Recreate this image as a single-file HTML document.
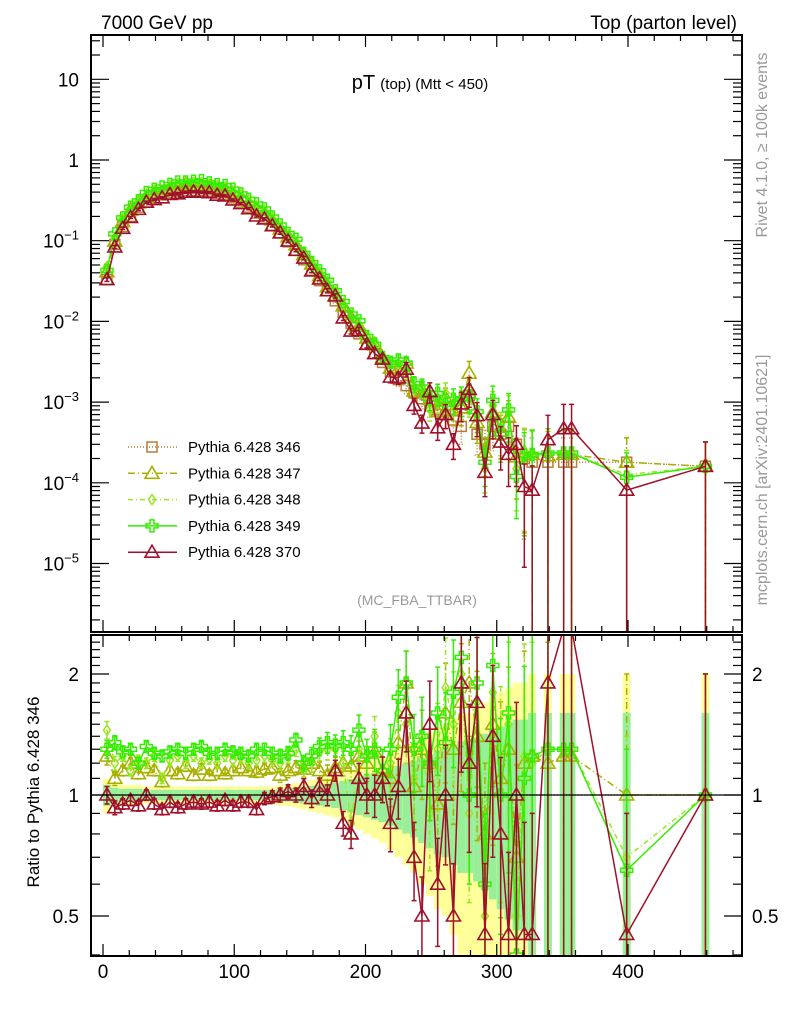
<!DOCTYPE html>
<html><head><meta charset="utf-8"><style>
html,body{margin:0;padding:0;background:#fff;width:786px;height:1024px;overflow:hidden;}
svg{display:block;font-family:"Liberation Sans",sans-serif;}
</style></head><body>
<svg id="c" width="786" height="1024" xmlns="http://www.w3.org/2000/svg">
<defs>
<clipPath id="cm"><rect x="91" y="35" width="651" height="597"/></clipPath>
<clipPath id="cr"><rect x="91" y="635" width="651" height="321"/></clipPath>
</defs>
<g id="bands" clip-path="url(#cr)"></g>
<g id="mainMarks" clip-path="url(#cm)"></g>
<g id="ratioMarks" clip-path="url(#cr)"></g>
<g id="axes"></g>
<text x="101" y="29" font-size="19">7000 GeV pp</text>
<text x="737" y="29" font-size="19" text-anchor="end">Top (parton level)</text>
<text x="420" y="89" font-size="20" text-anchor="middle">pT <tspan font-size="15">(top) (Mtt &lt; 450)</tspan></text>
<text x="417" y="605" font-size="14" fill="#999" text-anchor="middle">(MC_FBA_TTBAR)</text>
<text transform="translate(767,145) rotate(-90)" font-size="16" fill="#999" text-anchor="middle">Rivet 4.1.0, ≥ 100k events</text>
<text transform="translate(767,480) rotate(-90)" font-size="16" fill="#999" text-anchor="middle">mcplots.cern.ch [arXiv:2401.10621]</text>
<text transform="translate(39,792) rotate(-90)" font-size="17" text-anchor="middle">Ratio to Pythia 6.428 346</text>
<g id="legend"></g>
</svg>
<script>
const binCenters=[3,9,15,21,27,33,39,45,51,57,63,69,75,81,87,93,99,105,111,117,123,129,135,141,147,153,159,165,171,177,183,189,195,201,207,213,219,225,231,237,243,249,255,261,267,273,279,285,291,297,303,309,315,321,327,333,339,345,351,357,363,369,375,381,387,393,399,405,411,417,423,429,435,441,447,453,459,465,471,477];
const ref346=[0.033,0.09,0.15,0.2,0.26,0.3,0.34,0.37,0.39,0.41,0.42,0.42,0.42,0.41,0.39,0.37,0.34,0.30,0.26,0.22,0.19,0.155,0.125,0.097,0.076,0.058,0.043,0.032,0.024,0.018,0.013,0.0095,0.0070,0.0052,0.0040,0.0031,0.0024,0.0019,0.0016,0.0013,0.0011,0.0009,0.0008,0.0007,0.0006,0.0005,0.0012,0.0004,0.0003,0.0005,0.0004,0.0005,0.0003,0.0002,0.00018,null,0.00018,null,0.00018,0.00018,null,null,null,null,null,null,0.00018,null,null,null,null,null,null,null,null,null,0.00016,null,null,null];
const ratio347=[1.25,1.1,1.15,1.2,1.13,1.17,1.15,1.08,1.15,1.13,1.18,1.12,1.16,1.12,1.15,1.13,1.15,1.17,1.15,1.14,1.16,1.17,1.12,1.15,1.17,1.16,1.2,1.15,1.12,1.17,1.2,1.18,1.25,1.2,1.28,1.15,1.1,1.35,1.9,1.05,1.3,1.2,0.95,1.6,1.3,1.7,1.9,1.4,0.8,1.5,1.1,1.3,0.7,1.2,1.25,null,1.2,null,1.25,1.25,null,null,null,null,null,null,1.0,null,null,null,null,null,null,null,null,null,1.0,null,null,null];
const ratio348=[1.45,1.2,1.25,1.15,1.22,1.2,1.25,1.1,1.22,1.25,1.2,1.25,1.2,1.23,1.2,1.25,1.22,1.24,1.2,1.22,1.25,1.22,1.2,1.25,1.3,1.15,1.2,1.28,1.3,1.3,1.2,0.85,1.3,1.25,1.4,1.1,1.2,1.6,1.5,1.1,1.4,0.9,1.3,1.85,1.5,2.0,0.9,1.7,0.5,1.8,1.2,1.5,0.5,1.25,1.2,null,1.3,null,1.3,1.3,null,null,null,null,null,null,0.7,null,null,null,null,null,null,null,null,null,1.0,null,null,null];
const ratio349=[1.3,1.35,1.28,1.3,1.2,1.32,1.27,1.25,1.28,1.3,1.27,1.3,1.32,1.27,1.27,1.3,1.28,1.27,1.25,1.3,1.3,1.27,1.25,1.27,1.37,1.2,1.25,1.32,1.35,1.33,1.35,1.3,1.45,1.25,1.3,1.15,1.3,1.75,1.9,1.3,1.4,1.2,1.6,1.35,1.8,2.2,1.0,1.9,0.6,2.1,1.0,1.6,0.4,1.1,1.25,null,1.3,null,1.3,1.3,null,null,null,null,null,null,0.65,null,null,null,null,null,null,null,null,null,1.0,null,null,null];
const ratio370=[1.0,0.93,0.95,0.97,0.94,1.0,0.95,0.92,0.96,0.93,0.95,0.96,0.95,0.96,0.94,0.97,0.94,0.96,0.96,0.92,0.98,0.99,1.0,1.02,1.0,1.05,0.98,1.05,1.0,1.15,0.85,0.8,1.1,1.0,1.0,1.1,0.85,1.05,1.6,0.7,0.5,1.5,0.6,1.0,0.5,1.9,1.2,1.7,0.45,1.4,0.8,0.45,1.0,0.45,0.45,null,1.9,null,2.6,2.6,null,null,null,null,null,null,0.45,null,null,null,null,null,null,null,null,null,1.0,null,null,null];
const errFrac=[0.05,0.04,0.03,0.03,0.03,0.03,0.03,0.03,0.03,0.03,0.03,0.03,0.03,0.03,0.03,0.03,0.03,0.03,0.03,0.03,0.035,0.035,0.04,0.04,0.04,0.045,0.05,0.05,0.06,0.06,0.07,0.08,0.09,0.1,0.12,0.13,0.15,0.17,0.2,0.22,0.25,0.28,0.3,0.33,0.35,0.4,0.4,0.45,0.5,0.5,0.55,0.6,0.7,0.9,1,1,1,1,1,1,1,1,1,1,1,1,1,1,1,1,1,1,1,1,1,1,1,1,1,1];
const bandHalf=[0.1,0.07,0.06,0.06,0.06,0.05,0.05,0.05,0.05,0.05,0.05,0.05,0.05,0.05,0.05,0.05,0.05,0.05,0.05,0.05,0.05,0.05,0.06,0.06,0.07,0.08,0.09,0.1,0.11,0.12,0.14,0.16,0.18,0.2,0.22,0.24,0.27,0.3,0.33,0.36,0.4,0.44,0.48,0.5,0.55,0.6,0.6,0.65,0.7,0.75,0.8,0.85,0.9,0.9,1,1,1,1,1,1,1,1,1,1,1,1,1,1,1,1,1,1,1,1,1,1,1,1,1,1];
const xTicks=[0,100,200,300,400];
const mainYTicks=[-5,-4,-3,-2,-1,0,1];
const ratioYTicks=[0.5,1,2];

const NS="http://www.w3.org/2000/svg";
const L=91,R=742,MT=35,MB=632,RT=635,RB=956;
const xs=v=>103+v*1.3125;
const ym=v=>160-Math.log10(v)*80.7;
const yr=v=>795-Math.log2(v)*121;
const cl=(v,a,b)=>Math.max(a,Math.min(b,v));
function mk(tag,attrs,parent){const e=document.createElementNS(NS,tag);for(const k in attrs)e.setAttribute(k,attrs[k]);parent.appendChild(e);return e;}
const series=[
 {name:"Pythia 6.428 346",key:"346",col:"#b87c3a",dash:"1,2",m:"square",ratio:null},
 {name:"Pythia 6.428 347",key:"347",col:"#a8b000",dash:"7,3,1,3",m:"tri",ratio:ratio347},
 {name:"Pythia 6.428 348",key:"348",col:"#99e622",dash:"5,3,1,3",m:"diamond",ratio:ratio348},
 {name:"Pythia 6.428 349",key:"349",col:"#33ee00",dash:"",m:"cross",ratio:ratio349},
 {name:"Pythia 6.428 370",key:"370",col:"#a0102a",dash:"",m:"tri",ratio:ratio370}];
function marker(g,type,x,y,col){
 let e;
 if(type==="square")e=mk("rect",{x:x-5,y:y-5,width:10,height:10,fill:"none",stroke:col,"stroke-width":1.5},g);
 else if(type==="tri")e=mk("polygon",{points:`${x},${y-7} ${x-7},${y+5} ${x+7},${y+5}`,fill:"none",stroke:col,"stroke-width":1.6},g);
 else if(type==="diamond")e=mk("polygon",{points:`${x},${y-5} ${x-3.5},${y} ${x},${y+5} ${x+3.5},${y}`,fill:"none",stroke:col,"stroke-width":1.5},g);
 else e=mk("path",{d:`M${x-2},${y-6}h4v4h4v4h-4v4h-4v-4h-4v-4h4z`,fill:"none",stroke:col,"stroke-width":1.5},g);
 
 
}
const bands=document.getElementById('bands');
binCenters.forEach((c,i)=>{
 if(ref346[i]===null)return;
 const w=bandHalf[i];
 const top1=cl(yr(1+w),RT,RB),bot1=w>=1?RB:cl(yr(1-w),RT,RB);
 const y1=mk("rect",{x:xs(c-3),width:xs(c+3)-xs(c-3),y:top1,height:Math.max(0,bot1-top1),fill:"#ffff99"},bands);
 
 
 const g2=w*0.6;
 const top2=cl(yr(1+g2),RT,RB),bot2=g2>=1?RB:cl(yr(1-g2),RT,RB);
 const gr=mk("rect",{x:xs(c-3),width:xs(c+3)-xs(c-3),y:top2,height:Math.max(0,bot2-top2),fill:"#99ee99"},bands);
 
 
});
const axes=document.getElementById('axes');
const ul=mk("line",{x1:L,x2:R,y1:yr(1),y2:yr(1),stroke:"#000","stroke-width":1.2},axes);


const mm=document.getElementById('mainMarks'),rm=document.getElementById('ratioMarks');
series.forEach(s=>{
 const vals=binCenters.map((c,i)=>ref346[i]===null?null:(s.ratio?(s.ratio[i]===null?null:ref346[i]*s.ratio[i]):ref346[i]));
 const rat=binCenters.map((c,i)=>vals[i]===null?null:vals[i]/ref346[i]);
 const g=mk("g",{},mm);
 const gr=mk("g",{},rm);
 let d="",dr="";
 binCenters.forEach((c,i)=>{if(vals[i]===null)return;d+=(d?"L":"M")+xs(c)+","+ym(vals[i]);dr+=(dr?"L":"M")+xs(c)+","+cl(yr(rat[i]),RT-10,RB);});
 const p=mk("path",{d:d,fill:"none",stroke:s.col,"stroke-width":1.5,"stroke-dasharray":s.dash},g);
 
 const pr=mk("path",{d:dr,fill:"none",stroke:s.col,"stroke-width":1.5,"stroke-dasharray":s.dash},gr);
 
 binCenters.forEach((c,i)=>{
  if(vals[i]===null)return;
  const e=errFrac[i],x=xs(c);
  const yu=ym(vals[i]*(1+e)),yd=e>=1?MB:cl(ym(vals[i]*(1-e)),MT,MB);
  const eb=mk("path",{d:`M${x},${yu}V${yd}M${x-2.5},${yu}h5M${x-2.5},${yd}h5`,stroke:s.col,"stroke-width":1.5,"stroke-dasharray":s.dash},g);
  
  marker(g,s.m,x,ym(vals[i]),s.col);
  if(s.ratio){
   const r=rat[i],ru=cl(yr(r*(1+e)),RT-10,RB),rd=e>=1?RB:cl(yr(r*(1-e)),RT,RB);
   const ebr=mk("path",{d:`M${x},${ru}V${rd}M${x-2.5},${ru}h5M${x-2.5},${rd}h5`,stroke:s.col,"stroke-width":1.5,"stroke-dasharray":s.dash},gr);
   
   marker(gr,s.m,x,cl(yr(rat[i]),RT-10,RB),s.col);
  }
 });
});
[[MT,MB],[RT,RB]].forEach(([t,b],k)=>{
 const f=mk("rect",{x:L,y:t,width:R-L,height:b-t,fill:"none",stroke:"#000","stroke-width":2},axes);
 
 for(let v=0;v<=480;v+=20){const big=v%100===0,len=big?12:6;
  mk("line",{x1:xs(v),x2:xs(v),y1:b,y2:b-len,stroke:"#000","stroke-width":1.2},axes);
  mk("line",{x1:xs(v),x2:xs(v),y1:t,y2:t+len,stroke:"#000","stroke-width":1.2},axes);}
});
xTicks.forEach(v=>{const t=mk("text",{x:xs(v),y:978,"font-size":19,"text-anchor":"middle"},axes);t.textContent=v;});
for(let d=-6;d<=1;d++){for(let m=1;m<10;m++){const y=ym(m*Math.pow(10,d));if(y<MT||y>MB)continue;const len=m===1?18:9;
 mk("line",{x1:L,x2:L+len,y1:y,y2:y,stroke:"#000","stroke-width":1.2},axes);mk("line",{x1:R,x2:R-len,y1:y,y2:y,stroke:"#000","stroke-width":1.2},axes);}}
mainYTicks.forEach(p=>{const t=mk("text",{x:79,y:ym(Math.pow(10,p))+7,"font-size":19,"text-anchor":"end"},axes);
 if(p===0)t.textContent="1";else if(p===1)t.textContent="10";else{t.textContent="10";const s=mk("tspan",{dy:-8,"font-size":13},t);s.textContent="−"+(-p);}
 });
for(let v=0.4;v<=2.5;v+=0.1){const y=yr(v);if(y<RT||y>RB)continue;const big=Math.abs(v-0.5)<1e-6||Math.abs(v-1)<1e-6||Math.abs(v-2)<1e-6;const len=big?18:9;
 mk("line",{x1:L,x2:L+len,y1:y,y2:y,stroke:"#000","stroke-width":1.2},axes);mk("line",{x1:R,x2:R-len,y1:y,y2:y,stroke:"#000","stroke-width":1.2},axes);}
ratioYTicks.forEach(v=>{[[79,"end"],[752,"start"]].forEach(([x,a])=>{const t=mk("text",{x:x,y:yr(v)+7,"font-size":19,"text-anchor":a},axes);t.textContent=v;});});
const lg=document.getElementById('legend');
series.forEach((s,i)=>{const y=447+i*26.3;const g=mk("g",{},lg);
 mk("line",{x1:128,x2:177,y1:y,y2:y,stroke:s.col,"stroke-width":1.5,"stroke-dasharray":s.dash},g);
 marker(g,s.m,152,y,s.col);
 const t=mk("text",{x:188,y:y+5,"font-size":15},g);t.textContent=s.name;});
</script>
</body></html>
